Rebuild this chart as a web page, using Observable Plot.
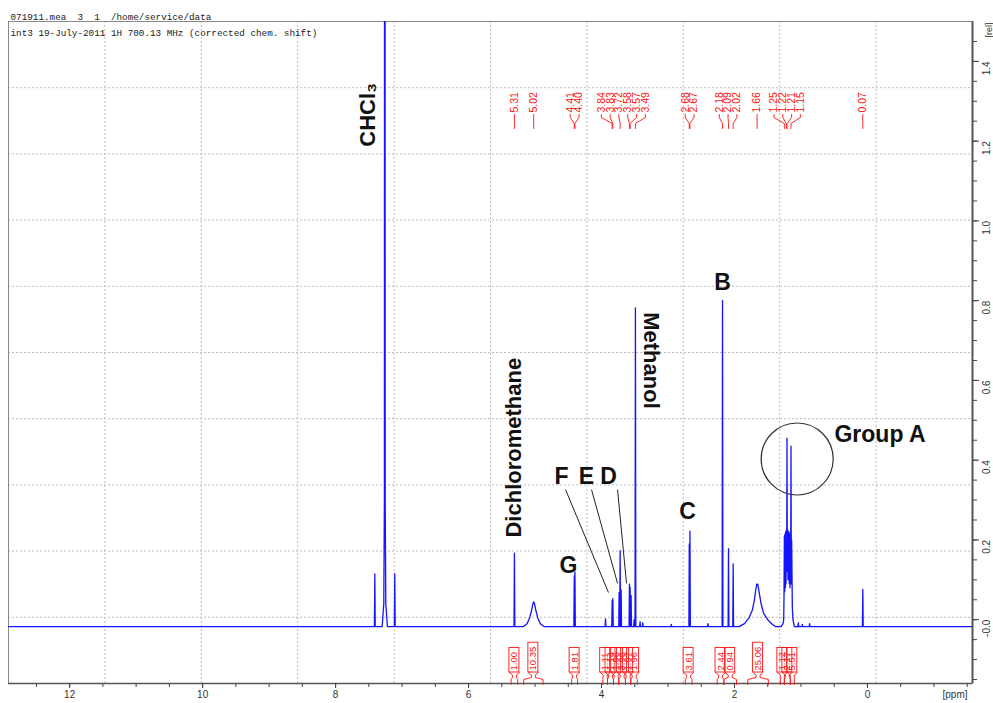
<!DOCTYPE html>
<html>
<head>
<meta charset="utf-8">
<script src="https://cdn.jsdelivr.net/npm/d3@7"></script>
<script src="https://cdn.jsdelivr.net/npm/@observablehq/plot@0.6"></script>
<style>
  html, body { margin: 0; padding: 0; background: #fff; }
  #chart { width: 993px; height: 703px; }
</style>
</head>
<body>
<div id="chart"></div>
<script>
// ---------- acquisition header ----------
const headerLine1 = "071911.mea  3  1  /home/service/data";
const headerLine2 = "int3 19-July-2011 1H 700.13 MHz (corrected chem. shift)";

// ---------- spectrum (ppm, relative intensity) ----------
const baseline = -0.0175;

// narrow lines: position and height
const sharpPpm    = [7.41, 7.11, 5.31, 4.41, 4.40, 3.94, 3.84, 3.83, 3.735, 3.72, 3.705, 3.58, 3.57, 3.555, 3.51, 3.49, 3.42, 3.38, 2.95, 2.68, 2.67, 2.40, 2.18, 2.09, 2.02, 1.04, 0.98, 0.87, 0.07];
const sharpHeight = [0.115, 0.115, 0.167, 0.11, 0.12, 0.002, 0.048, 0.053, 0.068, 0.173, 0.075, 0.089, 0.081, 0.06, 0.0, 0.782, -0.005, -0.008, -0.012, 0.19, 0.222, -0.01, 0.80, 0.178, 0.14, -0.008, -0.012, -0.01, 0.076];

// solvent line (off scale)
const chcl3Ppm    = [7.30, 7.275, 7.266, 7.262, 7.258, 7.254, 7.245, 7.22];
const chcl3Height = [baseline, 0.04, 0.3, 3.0, 3.0, 0.3, 0.04, baseline];

// broad signal near 5.02 ppm
const broad502Ppm    = [5.18, 5.12, 5.08, 5.05, 5.035, 5.02, 5.005, 4.99, 4.96, 4.92, 4.86];
const broad502Height = [baseline, -0.01, 0.005, 0.025, 0.038, 0.045, 0.038, 0.025, 0.005, -0.01, baseline];

// broad signal near 1.66 ppm
const broad166Ppm    = [1.93, 1.85, 1.78, 1.73, 1.70, 1.68, 1.665, 1.65, 1.63, 1.60, 1.56, 1.50, 1.44, 1.38];
const broad166Height = [baseline, -0.01, 0.005, 0.025, 0.05, 0.075, 0.089, 0.089, 0.07, 0.04, 0.015, 0.0, -0.01, baseline];

// dense multiplet (Group A)
const groupAPpm    = [1.30, 1.27, 1.26, 1.255, 1.25, 1.245, 1.24, 1.235, 1.23, 1.225, 1.22, 1.215, 1.21, 1.205, 1.20, 1.195, 1.19, 1.185, 1.18, 1.175, 1.17, 1.165, 1.16, 1.155, 1.15, 1.145, 1.14, 1.13, 1.12, 1.10];
const groupAHeight = [baseline, -0.01, 0.0, 0.06, 0.21, 0.07, 0.215, 0.08, 0.22, 0.09, 0.225, 0.12, 0.455, 0.13, 0.225, 0.1, 0.22, 0.1, 0.22, 0.09, 0.215, 0.08, 0.21, 0.09, 0.435, 0.09, 0.2, 0.03, 0.0, baseline];

// ---------- peak picking labels ----------
const peakLabelPpm = [5.31, 5.02, 4.41, 4.40, 3.84, 3.83, 3.72, 3.58, 3.57, 3.49, 2.68, 2.67, 2.18, 2.09, 2.02, 1.66, 1.25, 1.22, 1.21, 1.15, 0.07];

// ---------- integrals ----------
const intFrom  = [5.36, 5.17, 4.45, 3.98, 3.91, 3.82, 3.74, 3.64, 3.56, 2.74, 2.26, 2.16, 1.80, 1.31, 1.25, 1.16];
const intTo    = [5.26, 4.88, 4.36, 3.91, 3.82, 3.74, 3.64, 3.56, 3.46, 2.64, 2.16, 1.97, 1.49, 1.25, 1.16, 1.10];
const intValue = ["1.00", "10.35", "1.81", "1.11", "1.14", "1.96", "3.96", "1.97", "1.96", "3.61", "2.44", "0.94", "25.06", "1.12", "2.17", "5.51"];

// ---------- annotations ----------
const annoText = ["B", "C", "G", "F", "E", "D", "Group A"];
const annoPpm  = [2.18, 2.707, 4.496, 4.60, 4.226, 3.895, 0.496];
const annoRel  = [0.846, 0.271, 0.136, 0.359, 0.359, 0.359, 0.464];
const pointerFromPpm = [4.541, 4.150, 3.759];
const pointerToPpm   = [3.895, 3.759, 3.624];
const pointerFromRel = [0.326, 0.326, 0.326];
const pointerToRel   = [0.068, 0.091, 0.091];

// ---------- axes ----------
const X_DOMAIN = [12.92, -1.58];
const Y_DOMAIN = [-0.16, 1.5];
const xMajor = [12, 10, 8, 6, 4, 2, 0];
const xMinor = d3.range(-1.5, 12.9, 0.5);
const yMajor = [0, 0.2, 0.4, 0.6, 0.8, 1.0, 1.2, 1.4];
const yMinor = d3.range(-0.15, 1.46, 0.05);

const W = 993, H = 703;
const M = {top: 21, right: 21, bottom: 20, left: 8};
const X_RANGE = [M.left, W - M.right];
const Y_RANGE = [H - M.bottom, M.top];
const xs = Plot.scale({x: {domain: X_DOMAIN, range: X_RANGE}});
const ys = Plot.scale({y: {domain: Y_DOMAIN, range: Y_RANGE}});
const toX = px => xs.invert(px);
const toY = py => ys.invert(py);

// spectrum trace
const trace = [{ppm: X_DOMAIN[0], v: baseline}, {ppm: X_DOMAIN[1], v: baseline}];
sharpPpm.forEach((p, i) => {
  trace.push({ppm: p + 0.006, v: baseline}, {ppm: p, v: sharpHeight[i]}, {ppm: p - 0.006, v: baseline});
});
[[chcl3Ppm, chcl3Height], [broad502Ppm, broad502Height], [broad166Ppm, broad166Height], [groupAPpm, groupAHeight]]
  .forEach(([ps, hs]) => ps.forEach((p, i) => trace.push({ppm: p, v: hs[i]})));
trace.sort((a, b) => b.ppm - a.ppm);

// spread crowded peak labels apart (pixel space), centred on each cluster
function spreadLabels(px, gap) {
  let clusters = px.map((p, i) => ({idx: [i], center: p}));
  let merged = true;
  while (merged) {
    merged = false;
    for (let i = 0; i < clusters.length - 1; i++) {
      const a = clusters[i], b = clusters[i + 1];
      const aRight = a.center + (a.idx.length - 1) * gap / 2;
      const bLeft = b.center - (b.idx.length - 1) * gap / 2;
      if (bLeft - aRight < gap) {
        const idx = a.idx.concat(b.idx);
        clusters.splice(i, 2, {idx, center: d3.mean(idx, j => px[j])});
        merged = true;
        break;
      }
    }
  }
  const out = [];
  clusters.forEach(c => c.idx.forEach((j, k) => { out[j] = c.center + (k - (c.idx.length - 1) / 2) * gap; }));
  return out;
}

const peakPx = peakLabelPpm.map(p => xs.apply(p));
const labelPx = spreadLabels(peakPx, 8.8);
const peakLabels = peakLabelPpm.map((p, i) => ({ppm: toX(labelPx[i]), text: p.toFixed(2)}));
const leaders = peakLabelPpm.flatMap((p, i) => [
  {id: i, ppm: toX(labelPx[i]), v: toY(114)},
  {id: i, ppm: toX(labelPx[i]), v: toY(117)},
  {id: i, ppm: p, v: toY(123)},
  {id: i, ppm: p, v: toY(128)}
]);

// integral boxes, labels and brackets
const charW = c => (c === "." ? 0.278 : 0.556);
const INT_FS = 9.5;
const integrals = intValue.map((t, i) => {
  const c = (intFrom[i] + intTo[i]) / 2;
  const cx = xs.apply(c);
  const tw = d3.sum([...t], charW) * INT_FS;
  return {i, c, cx, t, tw, from: intFrom[i], to: intTo[i]};
});
const intBoxes = integrals.map(d => ({
  x1: toX(d.cx - 5), x2: toX(d.cx + 5), y1: toY(672), y2: toY(672 - d.tw - 6)
}));
const intLabels = integrals.map(d => ({ppm: d.c, v: toY(670), text: d.t}));
const brackets = integrals.flatMap(d => [
  {id: d.i + "l", ppm: d.from, v: toY(684)},
  {id: d.i + "l", ppm: d.from, v: toY(679)},
  {id: d.i + "l", ppm: toX(d.cx - 2), v: toY(677)},
  {id: d.i + "l", ppm: toX(d.cx - 2), v: toY(674.5)},
  {id: d.i + "l", ppm: toX(d.cx - 5), v: toY(672)},
  {id: d.i + "r", ppm: d.to, v: toY(684)},
  {id: d.i + "r", ppm: d.to, v: toY(679)},
  {id: d.i + "r", ppm: toX(d.cx + 2), v: toY(677)},
  {id: d.i + "r", ppm: toX(d.cx + 2), v: toY(674.5)},
  {id: d.i + "r", ppm: toX(d.cx + 5), v: toY(672)}
]);

const annos = annoText.map((t, i) => ({text: t, ppm: annoPpm[i], v: annoRel[i]}));
const pointers = pointerFromPpm.map((p, i) => ({x1: p, y1: pointerFromRel[i], x2: pointerToPpm[i], y2: pointerToRel[i]}));

const gridX = d3.range(1, 10).map(k => X_DOMAIN[0] + k * (X_DOMAIN[1] - X_DOMAIN[0]) / 10);
const gridY = d3.range(1, 10).map(k => Y_DOMAIN[0] + k * (Y_DOMAIN[1] - Y_DOMAIN[0]) / 10);

const SANS = "Liberation Sans, Arial, sans-serif";
const RED = "#ff1010";

const chart = Plot.plot({
  width: W, height: H,
  marginTop: M.top, marginRight: M.right, marginBottom: M.bottom, marginLeft: M.left,
  x: {domain: X_DOMAIN, range: X_RANGE},
  y: {domain: Y_DOMAIN, range: Y_RANGE},
  style: {fontFamily: SANS, background: "#fff", overflow: "visible"},
  marks: [
    // dotted grid
    Plot.ruleX(gridX, {stroke: "#bdbdbd", strokeDasharray: "2,2"}),
    Plot.ruleY(gridY, {stroke: "#bdbdbd", strokeDasharray: "2,2"}),
    Plot.frame({stroke: "#8a8a8a"}),
    Plot.ruleX([X_DOMAIN[1]], {stroke: "#555", strokeWidth: 2}),
    Plot.ruleY([Y_DOMAIN[0]], {stroke: "#555", strokeWidth: 1.5}),

    // axes
    Plot.axisX({anchor: "bottom", ticks: xMinor, tickSize: 4, tickFormat: () => "", label: null, stroke: "#444"}),
    Plot.axisX({anchor: "bottom", ticks: xMajor, tickSize: 5, tickPadding: 2, tickFormat: d => String(d), label: null, stroke: "#444", fill: "#333", fontSize: 10}),
    Plot.axisY({anchor: "right", ticks: yMinor, tickSize: 4, tickFormat: () => "", label: null, stroke: "#444"}),
    Plot.axisY({anchor: "right", ticks: yMajor, tickSize: 6, tickFormat: () => "", label: null, stroke: "#444"}),
    Plot.text(yMajor, {y: d => d, frameAnchor: "right", dx: 14, rotate: -90, text: d => d === 0 ? "-0.0" : d.toFixed(1), fontSize: 10, fill: "#333"}),
    Plot.text(["[rel]"], {frameAnchor: "top-right", dx: 13, dy: 1, rotate: -90, textAnchor: "end", text: d => d, fontSize: 9, fill: "#333"}),
    Plot.text(["[ppm]"], {frameAnchor: "bottom-right", dx: -5, dy: 7, lineAnchor: "top", textAnchor: "end", text: d => d, fontSize: 10, fill: "#333"}),

    // header
    Plot.text([headerLine1], {frameAnchor: "top-left", dx: 2, dy: -8, text: d => d, textAnchor: "start", fontFamily: "Liberation Mono, monospace", fontSize: 9.3, fill: "#222"}),
    Plot.text([headerLine2], {frameAnchor: "top-left", dx: 2, dy: 8, text: d => d, textAnchor: "start", fontFamily: "Liberation Mono, monospace", fontSize: 9.3, fill: "#222"}),

    // spectrum
    Plot.line(trace, {x: "ppm", y: "v", stroke: "#1414ff", strokeWidth: 1.3, clip: true}),

    // peak labels
    Plot.text(peakLabels, {x: "ppm", y: () => toY(112), text: "text", rotate: -90, textAnchor: "start", fill: RED, fontSize: 10.5}),
    Plot.line(leaders, {x: "ppm", y: "v", z: "id", stroke: RED, strokeWidth: 0.9}),

    // integrals
    Plot.rect(intBoxes, {x1: "x1", x2: "x2", y1: "y1", y2: "y2", stroke: RED, fill: "none", strokeWidth: 0.9}),
    Plot.text(intLabels, {x: "ppm", y: "v", text: "text", rotate: -90, textAnchor: "start", fill: RED, fontSize: INT_FS}),
    Plot.line(brackets, {x: "ppm", y: "v", z: "id", stroke: RED, strokeWidth: 0.9}),

    // solvent and assignment annotations
    Plot.text(["CHCl₃"], {x: () => 7.52, y: () => 1.186, text: d => d, rotate: -90, textAnchor: "start", fontSize: 22, fontWeight: "bold", fill: "#111"}),
    Plot.text(["Dichloromethane"], {x: () => 5.31, y: () => 0.206, text: d => d, rotate: -90, textAnchor: "start", fontSize: 22, fontWeight: "bold", fill: "#111"}),
    Plot.text(["Methanol"], {x: () => 3.25, y: () => 0.771, text: d => d, rotate: 90, textAnchor: "start", fontSize: 22, fontWeight: "bold", fill: "#111"}),
    Plot.text(annos.slice(0, 6), {x: "ppm", y: "v", text: "text", fontSize: 23, fontWeight: "bold", fill: "#111"}),
    Plot.text(annos.slice(6), {x: "ppm", y: "v", text: "text", textAnchor: "start", fontSize: 23, fontWeight: "bold", fill: "#111"}),
    Plot.link(pointers, {x1: "x1", y1: "y1", x2: "x2", y2: "y2", stroke: "#222", strokeWidth: 1}),
    Plot.dot([{ppm: 1.057, v: 0.403}], {x: "ppm", y: "v", r: 36, stroke: "#333", fill: "none", strokeWidth: 1.2})
  ]
});

document.getElementById("chart").appendChild(chart);
</script>
</body>
</html>
